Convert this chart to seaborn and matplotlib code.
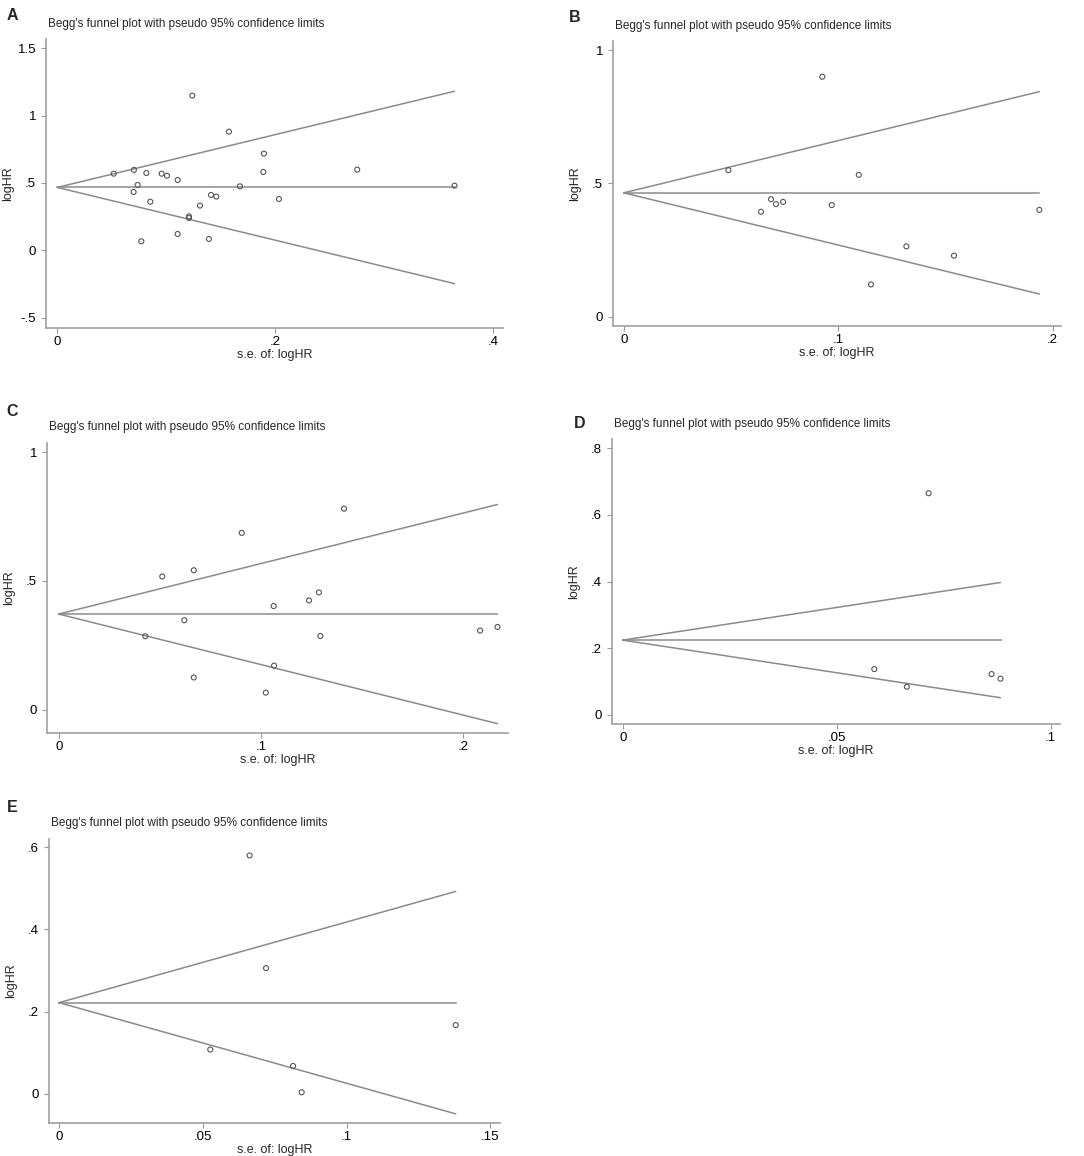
import numpy as np
import pandas as pd
import matplotlib
matplotlib.use("Agg")
import matplotlib.pyplot as plt
import seaborn as sns
from matplotlib.ticker import FixedLocator, FuncFormatter

sns.set_style("ticks")
plt.rcParams['font.family'] = ['Liberation Sans', 'DejaVu Sans']

# --- data (se of logHR, logHR) ---
se_a = [0.0517, 0.0703, 0.0817, 0.0737, 0.0700, 0.0853, 0.0771, 0.0957, 0.1006, 0.1104,
        0.1239, 0.1208, 0.1208, 0.1104, 0.1309, 0.1410, 0.1459, 0.1391, 0.1575, 0.1676,
        0.1896, 0.1890, 0.2034, 0.2752, 0.3645]
hr_a = [0.569, 0.597, 0.574, 0.485, 0.433, 0.361, 0.067, 0.569, 0.554, 0.522,
        1.149, 0.252, 0.240, 0.121, 0.332, 0.411, 0.399, 0.084, 0.881, 0.475,
        0.718, 0.582, 0.381, 0.599, 0.480]
theta_a = 0.467

se_b = [0.0488, 0.0640, 0.0687, 0.0710, 0.0743, 0.0926, 0.0970, 0.1096, 0.1153, 0.1318,
        0.1540, 0.1938]
hr_b = [0.550, 0.394, 0.441, 0.4225, 0.431, 0.901, 0.419, 0.5325, 0.121, 0.264,
        0.229, 0.401]
theta_b = 0.465

se_c = [0.0428, 0.0512, 0.0621, 0.0668, 0.0668, 0.0905, 0.1063, 0.1065, 0.1024, 0.1238,
        0.1287, 0.1294, 0.1411, 0.2084, 0.2170]
hr_c = [0.285, 0.517, 0.347, 0.541, 0.125, 0.686, 0.402, 0.171, 0.066, 0.424,
        0.455, 0.286, 0.780, 0.307, 0.321]
theta_c = 0.371

se_d = [0.0588, 0.0664, 0.0715, 0.0862, 0.0883]
hr_d = [0.137, 0.084, 0.665, 0.122, 0.108]
theta_d = 0.224

se_e = [0.0526, 0.0663, 0.0720, 0.0814, 0.0844, 0.1380]
hr_e = [0.108, 0.580, 0.306, 0.068, 0.004, 0.1675]
theta_e = 0.222

panels = [
    # letter, se, hr, theta, box (left, top, right, bottom px), xlim, ylim, xticks, yticks, letter pos, title y
    ("A", se_a, hr_a, theta_a, (46, 39, 503, 328), (-0.0104, 0.409), (-0.577, 1.569),
     [0, .2, .4], [-.5, 0, .5, 1, 1.5], (12, 15), 24),
    ("B", se_b, hr_b, theta_b, (613, 41, 1061, 326), (-0.005, 0.2039), (-0.035, 1.035),
     [0, .1, .2], [0, .5, 1], (575, 18), 26),
    ("C", se_c, hr_c, theta_c, (47, 443, 508, 733), (-0.0058, 0.2222), (-0.0906, 1.035),
     [0, .1, .2], [0, .5, 1], (12, 412), 427),
    ("D", se_d, hr_d, theta_d, (612, 439, 1060, 724), (-0.0025, 0.1022), (-0.028, 0.828),
     [0, .05, .1], [0, .2, .4, .6, .8], (580, 423), 424),
    ("E", se_e, hr_e, theta_e, (49, 839, 500, 1123), (-0.0035, 0.1534), (-0.0707, 0.620),
     [0, .05, .1, .15], [0, .2, .4, .6], (12, 808), 823),
]

W, H = 1084, 1156
fig = plt.figure(figsize=(W / 100, H / 100), dpi=100)


def stata_fmt(v, pos=None):
    s = f"{v:g}"
    if s.startswith("0."):
        s = s[1:]
    elif s.startswith("-0."):
        s = "-" + s[2:]
    return s


line_col = "#8a8a8a"
for letter, se, hr, theta, box, xlim, ylim, xt, yt, lpos, ty in panels:
    l, t, r, b = box
    ax = fig.add_axes([l / W, 1 - b / H, (r - l) / W, (b - t) / H])
    df = pd.DataFrame({"se": se, "loghr": hr})
    smax = df["se"].max()
    fun = pd.DataFrame({"se": [0, smax]})
    fun["upper"] = theta + 1.96 * fun["se"]
    fun["lower"] = theta - 1.96 * fun["se"]
    fun["mid"] = theta

    sns.lineplot(data=fun, x="se", y="mid", ax=ax, color="#a6a6a6", lw=1.5)
    sns.lineplot(data=fun, x="se", y="upper", ax=ax, color=line_col, lw=1.1)
    sns.lineplot(data=fun, x="se", y="lower", ax=ax, color=line_col, lw=1.1)
    sns.scatterplot(data=df, x="se", y="loghr", ax=ax, s=13, marker="o",
                    facecolor="none", edgecolor="#555555", linewidth=0.8, zorder=5)

    ax.set_xlim(*xlim)
    ax.set_ylim(*ylim)
    ax.xaxis.set_major_locator(FixedLocator(xt))
    ax.yaxis.set_major_locator(FixedLocator(yt))
    ax.xaxis.set_major_formatter(FuncFormatter(stata_fmt))
    ax.yaxis.set_major_formatter(FuncFormatter(stata_fmt))
    sns.despine(ax=ax)
    for sp in ("left", "bottom"):
        ax.spines[sp].set_color("#a0a0a0")
        ax.spines[sp].set_linewidth(1.2)
    ax.tick_params(colors="#9a9a9a", labelcolor="black", length=3.6, width=0.8,
                   labelsize=9.5)
    ax.tick_params(axis="y", pad=3.6)
    ax.tick_params(axis="x", pad=2.5)
    ax.set_xlabel("s.e. of: logHR", fontsize=9)
    ax.set_ylabel("logHR", fontsize=9)
    ax.xaxis.label.set_va("top")
    ax.yaxis.label.set_va("center")
    ax.xaxis.set_label_coords(0.5, -21 / (b - t))
    ax.yaxis.set_label_coords(-38 / (r - l), 0.5)

    fig.text((l + 2) / W, 1 - ty / H, "Begg's funnel plot with pseudo 95% confidence limits",
             fontsize=8.5, ha="left", va="center")
    fig.text(lpos[0] / W, 1 - lpos[1] / H, letter, fontsize=11.5, fontweight="bold",
             ha="center", va="center")

fig.savefig("out.png", dpi=100)
